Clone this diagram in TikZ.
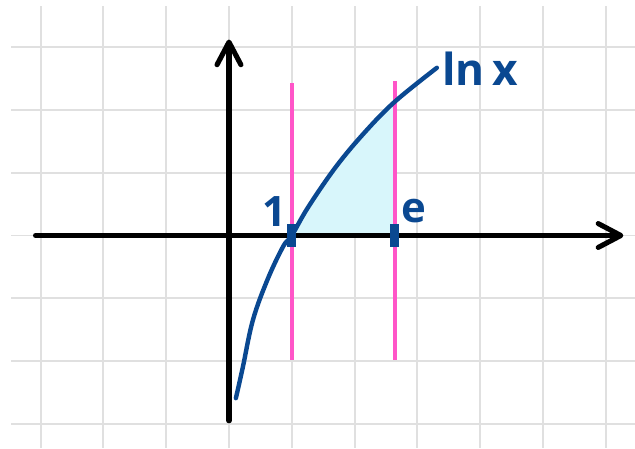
\documentclass[tikz,border=0pt]{standalone}
\usepackage{fontspec}
\setmainfont{Open Sans}
\usetikzlibrary{arrows.meta, positioning, calc}
\definecolor{lnblue}{RGB}{10,72,145}
\definecolor{markpink}{RGB}{255,85,200}
\definecolor{areacyan}{RGB}{216,246,251}
\definecolor{gridgray}{RGB}{224,224,224}
\tikzset{
    gridline/.style={draw=gridgray, line width=0.9pt},
    axisline/.style={draw=black, line width=2.3pt, line cap=round,
        -{Straight Barb[length=3.6mm, width=3.8mm, line cap=round, line join=round]}},
    markline/.style={draw=markpink, line width=1.8pt},
    tickmark/.style={draw=lnblue, line width=4pt},
    lncurve/.style={draw=lnblue, line width=2pt, line cap=round},
    handlabel/.style={text=lnblue, font=\bfseries\fontsize{19}{22}\selectfont, inner sep=1pt}
}

\begin{document}
\begin{tikzpicture}[x=1cm, y=1cm]
    \useasboundingbox (-3.646,-3.384) rectangle (6.465,3.75);
    % squared paper
    \foreach \gx in {-3,...,6}
        \draw[gridline] (\gx,-3.384) -- (\gx,3.65);
    \foreach \gy in {-3,...,3}
        \draw[gridline] (-3.47,\gy) -- (6.465,\gy);

    \coordinate (one) at (1,0);
    \coordinate (ee) at (2.64,0);

    % area under the curve
    \begin{scope}
        \clip (one) rectangle ($(ee)+(0,3)$);
        \fill[areacyan] plot[smooth, tension=0.6] coordinates {(0.11,-2.59) (0.22,-2.10) (0.38,-1.35) (0.61,-0.71) (0.86,-0.18) (1,0) (1.26,0.45) (1.70,1.09) (2.15,1.63) (2.64,2.13) (3.31,2.67)}
            -- (3.31,0) -- (0.11,0) -- cycle;
    \end{scope}

    % axes
    \coordinate (xleft) at (-3.08,0);
    \coordinate (xright) at (6.28,0);
    \coordinate (ybottom) at (0,-2.95);
    \coordinate (ytop) at (0,3.12);
    \draw[axisline] (xleft) -- (xright);
    \draw[axisline] (ybottom) -- (ytop);

    % bounds
    \draw[markline] ($(one)+(0,-1.98)$) -- ($(one)+(0,2.43)$);
    \draw[markline] ($(ee)+(0,-1.98)$) -- ($(ee)+(0,2.46)$);

    \draw[lncurve] plot[smooth, tension=0.6] coordinates {(0.11,-2.59) (0.22,-2.10) (0.38,-1.35) (0.61,-0.71) (0.86,-0.18) (1,0) (1.26,0.45) (1.70,1.09) (2.15,1.63) (2.64,2.13) (3.31,2.67)};

    \draw[tickmark] ($(one)+(0,-0.18)$) -- ($(one)+(0,0.18)$);
    \draw[tickmark] ($(ee)+(0,-0.18)$) -- ($(ee)+(0,0.18)$);

    \node[handlabel] (lone) at (0.73,0.375) {1};
    \node[handlabel] (lee) at (2.94,0.39) {e};
    \node[handlabel, font=\bfseries\fontsize{20}{24}\selectfont] (lnlabel) at (4.0,2.66) {ln\,x};
\end{tikzpicture}
\end{document}
